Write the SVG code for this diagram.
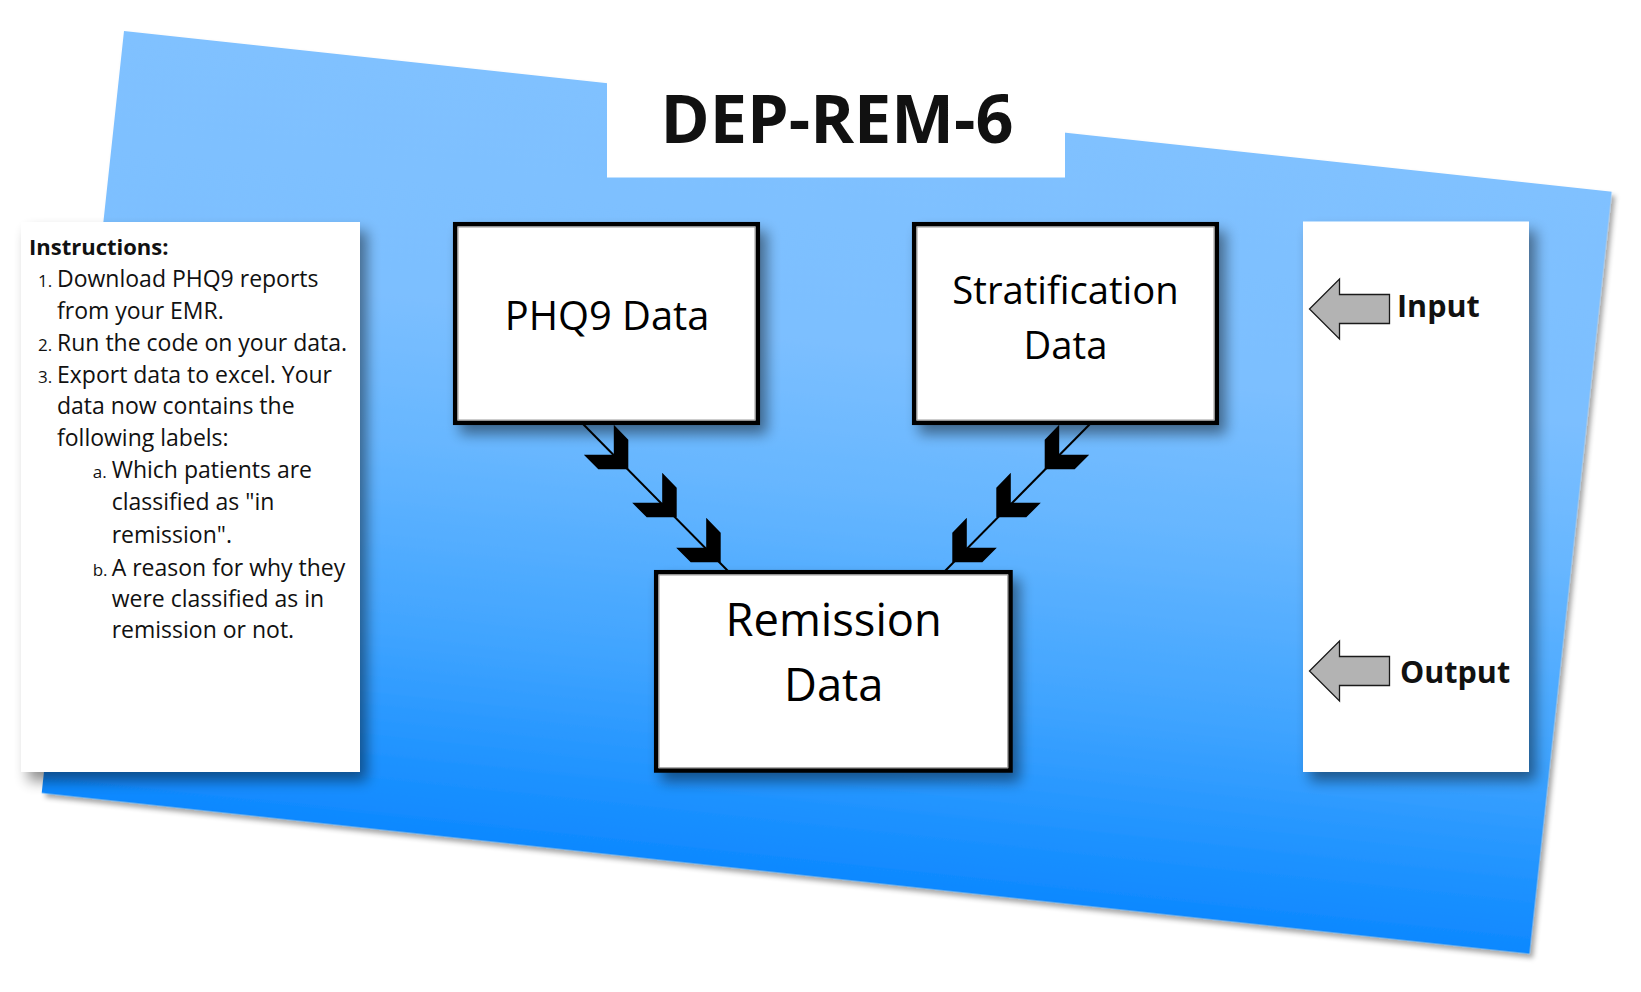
<svg xmlns="http://www.w3.org/2000/svg" width="1641" height="992" viewBox="0 0 1641 992">
<style>
  .t { font-family: "Open Sans", "Noto Sans", "Liberation Sans", sans-serif; fill: #111; }
  .b { font-weight: 700; }
  .num { font-size: 17px; }
  .ins { font-size: 23px; }
  .lbl { font-family: "Open Sans", "Noto Sans", "Liberation Sans", sans-serif; fill: #000; text-anchor: middle; }
  .node { fill: #fff; stroke: #000; stroke-width: 4.5; }
  .inner { fill: none; stroke: #9a9a9a; stroke-width: 1; }
  .panel { fill: #fff; }
  .conn { stroke: #000; stroke-width: 2; fill: none; }
  .chev { fill: #000; }
  .io { fill: #b3b3b3; stroke: #1a1a1a; stroke-width: 1.3; }
</style>
<defs>
  <linearGradient id="bg" x1="0" y1="0" x2="0" y2="1">
    <stop offset="0" stop-color="#80c1ff"/>
    <stop offset="0.3" stop-color="#7cbfff"/>
    <stop offset="0.5" stop-color="#66b6ff"/>
    <stop offset="0.74" stop-color="#40a4ff"/>
    <stop offset="0.93" stop-color="#1a90ff"/>
    <stop offset="1" stop-color="#0e88ff"/>
  </linearGradient>
  <filter id="polyShadow" x="-5%" y="-5%" width="110%" height="110%">
    <feDropShadow dx="4" dy="4" stdDeviation="2.5" flood-color="#000" flood-opacity="0.35"/>
  </filter>
  <filter id="boxShadow" x="-10%" y="-10%" width="130%" height="130%">
    <feGaussianBlur in="SourceAlpha" stdDeviation="7"/>
    <feOffset dx="7" dy="9" result="o"/>
    <feComponentTransfer><feFuncA type="linear" slope="0.45"/></feComponentTransfer>
    <feMerge><feMergeNode/><feMergeNode in="SourceGraphic"/></feMerge>
  </filter>
  <path id="chev" d="M0,0 L-30,0 L-44.5,-14.5 L-14.5,-14.5 L-14.5,-44.5 L0,-29.5 Z"/>
</defs>

<g id="background">
  <rect x="124" y="31" width="1496.4" height="766.4" fill="url(#bg)" transform="rotate(6.165 124 31)" filter="url(#polyShadow)"/>
</g>

<g id="title">
  <rect x="607" y="60" width="458" height="117.5" fill="#fff"/>
  <text class="t b" x="837" y="143.3" font-size="66.5" text-anchor="middle" fill="#000">DEP-REM-6</text>
</g>

<g id="instructions">
  <rect class="panel" x="21" y="222" width="339" height="550" filter="url(#boxShadow)"/>
  <text class="t b" x="29" y="255" font-size="22">Instructions:</text>
  <text class="t num" x="38" y="287.3">1.</text>
  <text class="t ins" x="57" y="287.3">Download PHQ9 reports</text>
  <text class="t ins" x="57" y="319.3">from your EMR.</text>
  <text class="t num" x="38" y="351">2.</text>
  <text class="t ins" x="57" y="351">Run the code on your data.</text>
  <text class="t num" x="38" y="382.7">3.</text>
  <text class="t ins" x="57" y="382.7">Export data to excel. Your</text>
  <text class="t ins" x="57" y="414">data now contains the</text>
  <text class="t ins" x="57" y="446">following labels:</text>
  <text class="t num" x="92.7" y="478">a.</text>
  <text class="t ins" x="111.7" y="478">Which patients are</text>
  <text class="t ins" x="111.7" y="510">classified as "in</text>
  <text class="t ins" x="111.7" y="542.7">remission".</text>
  <text class="t num" x="92.7" y="575.7">b.</text>
  <text class="t ins" x="111.7" y="575.7">A reason for why they</text>
  <text class="t ins" x="111.7" y="606.7">were classified as in</text>
  <text class="t ins" x="111.7" y="638.3">remission or not.</text>
</g>

<g id="legend">
  <rect class="panel" x="1303" y="221.5" width="226" height="550.5" filter="url(#boxShadow)"/>
  <path class="io" d="M1309.5,309 L1339.5,279 L1339.5,294.5 L1389.5,294.5 L1389.5,323.5 L1339.5,323.5 L1339.5,339 Z"/>
  <text class="t b" x="1397" y="317.3" font-size="30.5" fill="#231f20">Input</text>
  <path class="io" d="M1309.5,671 L1339.5,641 L1339.5,656.5 L1389.5,656.5 L1389.5,685.5 L1339.5,685.5 L1339.5,701 Z"/>
  <text class="t b" x="1400" y="682.7" font-size="30.5" fill="#231f20">Output</text>
</g>

<g id="connectors">
  <line class="conn" x1="583" y1="424" x2="728" y2="571"/>
  <use href="#chev" x="628.3" y="469.3"/>
  <use href="#chev" x="676.7" y="517.3"/>
  <use href="#chev" x="720.7" y="562.3"/>
  <line class="conn" x1="1090" y1="424" x2="945" y2="571"/>
  <use href="#chev" transform="translate(1044.7 469.3) scale(-1 1)"/>
  <use href="#chev" transform="translate(996.3 517.3) scale(-1 1)"/>
  <use href="#chev" transform="translate(952.3 562.3) scale(-1 1)"/>
</g>

<g id="node-phq9">
  <rect class="node" x="455.2" y="224.2" width="302.6" height="198.6" filter="url(#boxShadow)"/>
  <rect class="inner" x="458" y="227" width="297" height="193"/>
  <text class="lbl" x="607" y="330" font-size="39.8">PHQ9 Data</text>
</g>

<g id="node-stratification">
  <rect class="node" x="914.2" y="224.2" width="302.6" height="198.6" filter="url(#boxShadow)"/>
  <rect class="inner" x="917" y="227" width="297" height="193"/>
  <text class="lbl" x="1065.5" y="304.3" font-size="38.2">Stratification</text>
  <text class="lbl" x="1065.5" y="359" font-size="38.2">Data</text>
</g>

<g id="node-remission">
  <rect class="node" x="656.2" y="572.2" width="354.3" height="198.3" filter="url(#boxShadow)"/>
  <rect class="inner" x="659" y="575" width="348.7" height="192.7"/>
  <text class="lbl" x="833.7" y="636" font-size="45.3">Remission</text>
  <text class="lbl" x="833.7" y="700.7" font-size="45.3">Data</text>
</g>
</svg>
